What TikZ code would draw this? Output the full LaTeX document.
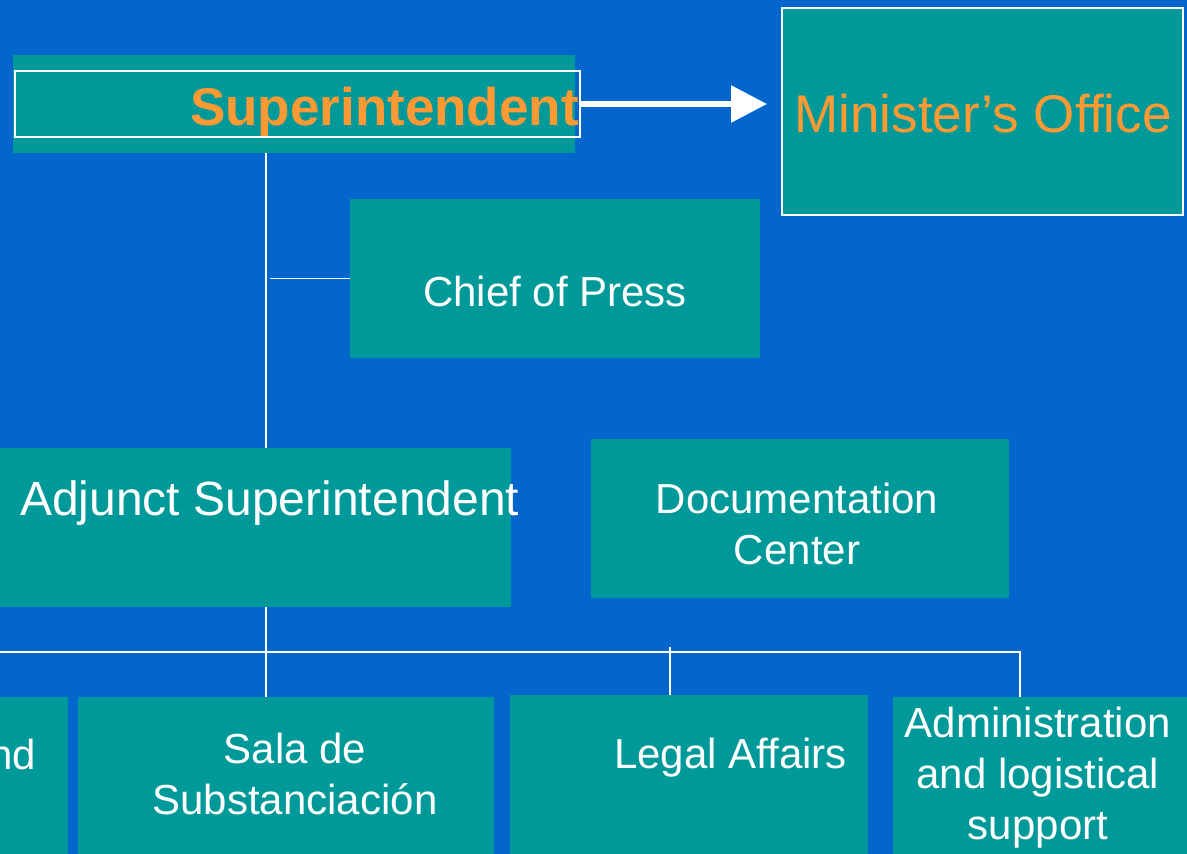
\documentclass[tikz,border=0pt]{standalone}
\usepackage{fontspec}
\setmainfont{Liberation Sans}
\usetikzlibrary{arrows.meta}
\definecolor{bgblue}{HTML}{0366CC}
\definecolor{boxteal}{HTML}{009999}
\definecolor{txtorange}{HTML}{FF9933}
\tikzset{
  box/.style={fill=boxteal, draw=none, inner sep=0pt, outer sep=0pt, anchor=north west},
  lbl/.style={text=white, font=\fontsize{42}{51}\selectfont, inner sep=0pt, anchor=base},
  conn/.style={draw=white, line width=1.5pt},
}
\begin{document}
\begin{tikzpicture}[x=1pt,y=-1pt]
\useasboundingbox (0,0) rectangle (1187,854);
\clip (0,0) rectangle (1187,854);
\fill[bgblue] (0,0) rectangle (1187,854);

% boxes
\node[box, minimum width=562pt, minimum height=98pt] (sup) at (13,55) {};
\node[box, fill=none, draw=white, line width=1.2pt, minimum width=565pt, minimum height=66pt] (supframe) at (15,71) {};
\node[box, draw=white, line width=2pt, minimum width=401pt, minimum height=207pt] (min) at (782,8) {};
\node[box, minimum width=410pt, minimum height=159pt] (press) at (350,199) {};
\node[box, minimum width=521pt, minimum height=159pt] (adj) at (-10,448) {};
\node[box, minimum width=418pt, minimum height=159pt] (doc) at (591,439) {};
\node[box, minimum width=78pt, minimum height=183pt] (lft) at (-10,697) {};
\node[box, minimum width=416pt, minimum height=183pt] (sala) at (78,697) {};
\node[box, minimum width=358pt, minimum height=185pt] (legal) at (510,695) {};
\node[box, minimum width=307pt, minimum height=183pt] (admin) at (893,697) {};

% connectors
\coordinate (trunk) at (266,0);
\coordinate (busL) at (-5,652);
\coordinate (busR) at (1020,652);
\coordinate (legalx) at (670,647);
\draw[conn] (sup.south -| trunk) -- (adj.north -| trunk);
\draw[conn] ([xshift=4pt]trunk |- press.west) -- (press.west);
\draw[conn] (adj.south -| trunk) -- (sala.north -| trunk);
\draw[conn] (busL) -- (busR) -- (busR |- admin.north);
\draw[conn] (legalx) -- (legalx |- legal.north);

% arrow
\draw[white, line width=6pt, -{Triangle[length=36pt,width=36pt]}, shorten >=15pt]
  (supframe.east) -- (supframe.east -| min.west);

% texts
\node[anchor=base east, inner sep=0pt, text=txtorange, font=\fontsize{53}{60}\selectfont\bfseries] (suptxt) at (579,125) {Superintendent};
\node[anchor=base, inner sep=0pt, text=txtorange, font=\fontsize{53}{60}\selectfont] (mintxt) at (983,132) {Minister’s Office};
\node[lbl] (presstxt) at (555,306) {Chief of Press};
\node[lbl, anchor=base west, font=\fontsize{48}{56}\selectfont] (adjtxt) at (20,515) {Adjunct Superintendent};
\node[lbl] (doctxt1) at (797,513) {Documentation};
\node[lbl] (doctxt2) at (797,564) {Center};
\node[lbl, anchor=base east] (lfttxt) at (36,769) {nd};
\node[lbl] (salatxt1) at (295,763) {Sala de};
\node[lbl] (salatxt2) at (295,814) {Substanciación};
\node[lbl, anchor=base west] (legaltxt) at (614,768) {Legal Affairs};
\node[lbl] (admintxt1) at (1038,737) {Administration};
\node[lbl] (admintxt2) at (1038,788) {and logistical};
\node[lbl] (admintxt3) at (1038,839) {support};
\end{tikzpicture}
\end{document}
